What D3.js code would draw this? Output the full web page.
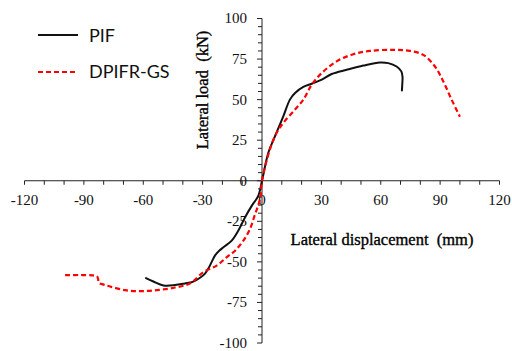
<!DOCTYPE html>
<html>
<head>
<meta charset="utf-8">
<script src="https://cdn.jsdelivr.net/npm/d3@7"></script>
<style>
  html, body { margin: 0; padding: 0; background: #fff; }
  svg { display: block; }
</style>
</head>
<body>
<svg id="chart" width="512" height="351"></svg>
<script>
// Hysteresis envelope curves: lateral displacement (mm) vs lateral load (kN)
const pifX = [-58.6, -54.9, -49.8, -44, -39, -35, -31.3, -28.8, -27.2, -25.4, -23.7, -21.5, -19.5, -15.3, -12, -8.6, -5.2, -1.9, 0,
  3.2, 6.6, 10.8, 14.1, 16.7, 20.9, 25.1, 30.2, 35.2, 42.8, 51.2, 59.6, 63.8, 68, 70.4, 71, 70.9, 70.7];
const pifY = [-60, -62.1, -64.5, -64.3, -63.3, -62.3, -59.8, -57.2, -54.3, -50, -46, -43, -41, -36.9, -30.8, -22.6, -15.5, -9.3, 0,
  17.3, 27.5, 39.8, 50, 54.1, 57.8, 59.8, 62.3, 65.8, 68.4, 71, 72.9, 72.5, 70.4, 67.4, 64, 60, 55.7];

const dpX = [-99.5, -91.9, -86, -83.5, -82.8, -82.5, -80, -76.8, -68.3, -60, -52, -44, -36.4, -29.6, -22.9, -17.8, -13.6, -9.4, -6.1, -3.5, -1, 0,
  4, 7.4, 10.8, 16.7, 20.9, 25.1, 30.2, 37.7, 46.1, 54.5, 66.3, 74.7, 81.5, 87.4, 91.6, 95.8, 100];
const dpY = [-58.2, -58.1, -58.3, -58.8, -60.5, -62.8, -64, -65.2, -67.6, -68, -67.3, -65.8, -63.3, -56.3, -52.3, -47.1, -43.1, -36.9, -29.8, -20.6, -11.3, 0,
  19.3, 29.6, 35.7, 43.9, 50, 59.2, 66.4, 73.6, 78, 80, 80.7, 80, 77.6, 70.4, 61.2, 50, 39.4];

const xTickLabels = [-120, -90, -60, -30, 0, 30, 60, 90, 120];
const yTickLabels = [-100, -75, -50, -25, 0, 25, 50, 75, 100];
const seriesNames = ["PIF", "DPIFR-GS"];

const svg = d3.select("#chart");
const x = d3.scaleLinear().domain([-120, 120]).range([24.5, 499.5]);
const y = d3.scaleLinear().domain([-100, 100]).range([343, 18.5]);

const serif = "'Liberation Serif', 'Times New Roman', serif";
const axisColor = "#222";

// x axis through y = 0, minor ticks every 10 mm, labels every 30 mm
const xAxis = svg.append("g").attr("transform", `translate(0,${y(0)})`);
xAxis.append("line").attr("x1", x(-120)).attr("x2", x(120)).attr("stroke", axisColor).attr("stroke-width", 1);
xAxis.selectAll("line.tk").data(d3.range(-120, 121, 10)).join("line")
  .attr("class", "tk").attr("x1", d => x(d)).attr("x2", d => x(d))
  .attr("y1", 0).attr("y2", 4).attr("stroke", axisColor).attr("stroke-width", 1);
xAxis.selectAll("text").data(xTickLabels).join("text")
  .attr("x", d => x(d)).attr("y", 24.5).attr("text-anchor", "middle")
  .attr("font-family", serif).attr("font-size", 15).attr("fill", "#111")
  .text(d => d);

// y axis through x = 0, ticks every 5 kN, labels every 25 kN
const yAxis = svg.append("g").attr("transform", `translate(${x(0)},0)`);
yAxis.append("line").attr("y1", y(-100)).attr("y2", y(100)).attr("stroke", axisColor).attr("stroke-width", 1);
yAxis.selectAll("line.tk").data(d3.range(-100, 101, 5)).join("line")
  .attr("class", "tk").attr("y1", d => y(d)).attr("y2", d => y(d))
  .attr("x1", d => d % 25 === 0 ? -5 : -4).attr("x2", 0).attr("stroke", axisColor).attr("stroke-width", 1);
yAxis.selectAll("text").data(yTickLabels).join("text")
  .attr("x", -15).attr("y", d => y(d)).attr("dy", "0.33em").attr("text-anchor", "end")
  .attr("font-family", serif).attr("font-size", 15).attr("fill", "#111")
  .text(d => d);

// axis titles
svg.append("text").attr("x", 382).attr("y", 245).attr("text-anchor", "middle")
  .attr("font-family", serif).attr("font-size", 16.5).attr("fill", "#000")
  .attr("stroke", "#000").attr("stroke-width", 0.35)
  .style("white-space", "pre")
  .text("Lateral displacement  (mm)");
svg.append("text").attr("transform", "translate(208,90) rotate(-90)").attr("text-anchor", "middle")
  .attr("font-family", serif).attr("font-size", 16.5).attr("fill", "#000")
  .attr("stroke", "#000").attr("stroke-width", 0.35)
  .style("white-space", "pre")
  .text("Lateral load  (kN)");

// curves
const line = d3.line().x(d => x(d[0])).y(d => y(d[1])).curve(d3.curveCatmullRom.alpha(0.5));
svg.append("path").datum(pifX.map((v, i) => [v, pifY[i]]))
  .attr("d", line).attr("fill", "none").attr("stroke", "#111").attr("stroke-width", 2)
  .attr("stroke-linejoin", "round").attr("stroke-linecap", "round");
svg.append("path").datum(dpX.map((v, i) => [v, dpY[i]]))
  .attr("d", line).attr("fill", "none").attr("stroke", "#ff0000").attr("stroke-width", 2.2)
  .attr("stroke-dasharray", "5,3");

// legend
const legend = svg.append("g");
const legendStyles = [
  { color: "#111", dash: null, width: 2, ly: 35, ty: 42 },
  { color: "#ff0000", dash: "5,3", width: 2.2, ly: 72, ty: 78 }
];
seriesNames.forEach((name, i) => {
  const s = legendStyles[i];
  legend.append("line").attr("x1", 38).attr("x2", 78).attr("y1", s.ly).attr("y2", s.ly)
    .attr("stroke", s.color).attr("stroke-width", s.width).attr("stroke-dasharray", s.dash);
  legend.append("text").attr("x", 89).attr("y", s.ty)
    .attr("font-family", "Lato, 'Open Sans', sans-serif").attr("font-size", 18).attr("fill", "#111")
    .text(name);
});
</script>
</body>
</html>
